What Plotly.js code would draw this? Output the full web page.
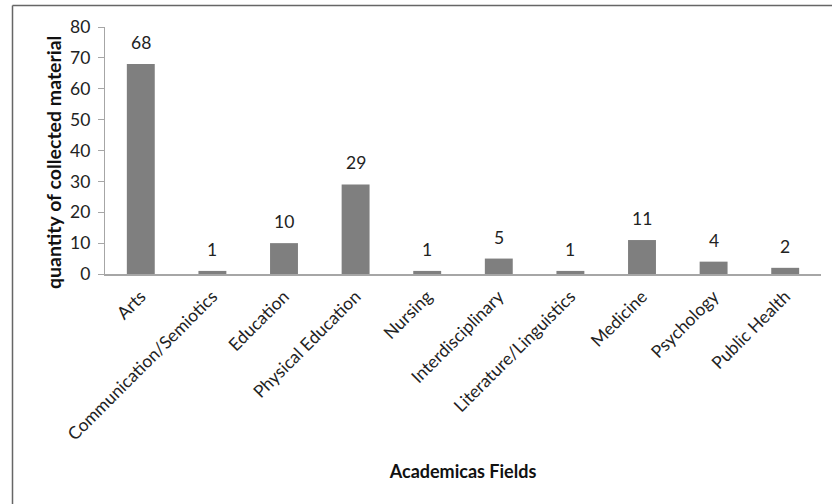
<!DOCTYPE html>
<html>
<head>
<meta charset="utf-8">
<script src="https://cdn.plot.ly/plotly-3.0.1.min.js"></script>
<style>
html,body{margin:0;padding:0;background:#fff;}
#chart{width:832px;height:504px;}
</style>
</head>
<body>
<div id="chart"></div>
<script>
const categories = ["Arts","Communication/Semiotics","Education","Physical Education","Nursing","Interdisciplinary","Literature/Linguistics","Medicine","Psychology","Public Health"];
const values = [68, 1, 10, 29, 1, 5, 1, 11, 4, 2];
const yTicks = [0, 10, 20, 30, 40, 50, 60, 70, 80];

const W = 832, H = 504;
const mL = 105, mR = 11, mT = 27, mB = 230;
const pw = W - mL - mR, ph = H - mT - mB;
function px(x){ return (x - mL) / pw; }
function py(y){ return 1 - (y - mT) / ph; }

const font = "Lato, 'Open Sans', sans-serif";

const trace = {
  type: "bar",
  x: categories,
  y: values,
  marker: {color: "#7f7f7f"},
  width: 0.39,
  hoverinfo: "none"
};

const labelAnns = categories.map((c, i) => ({
  x: c, y: values[i], xref: "x", yref: "y",
  text: String(values[i]), showarrow: false,
  yanchor: "bottom", yshift: 9,
  font: {family: font, size: 17.5, color: "#222"}
}));

const layout = {
  width: W, height: H,
  margin: {l: mL, r: mR, t: mT, b: mB, pad: 0},
  paper_bgcolor: "#fff",
  plot_bgcolor: "#fff",
  showlegend: false,
  font: {family: font, color: "#222"},
  xaxis: {
    type: "category",
    tickangle: -45,
    tickfont: {family: font, size: 17.5, color: "#222"},
    ticklabelstandoff: 4,
    showline: true, linecolor: "#a6a6a6", linewidth: 1.5,
    ticks: "", showgrid: false, zeroline: false,
    title: {text: "Academicas Fields", font: {family: font, size: 18, color: "#111", weight: "bold"}, standoff: 22}
  },
  yaxis: {
    range: [0, 80],
    tickvals: yTicks,
    tickfont: {family: font, size: 17.5, color: "#222"},
    showline: true, linecolor: "#a6a6a6", linewidth: 1.2,
    ticks: "outside", ticklen: 6, tickcolor: "#a6a6a6",
    ticklabelstandoff: 4,
    showgrid: false, zeroline: false
  },
  annotations: labelAnns.concat([{
    xref: "paper", yref: "paper", x: px(53), y: py(163),
    text: "quantity of collected material", showarrow: false, textangle: -90,
    xanchor: "center", yanchor: "middle",
    font: {family: font, size: 19.5, color: "#111", weight: "bold"}
  }]),
  shapes: [
    {type: "line", xref: "paper", yref: "paper", x0: px(12.5), x1: px(832), y0: py(5.5), y1: py(5.5), line: {color: "#666", width: 1.5}},
    {type: "line", xref: "paper", yref: "paper", x0: px(12.5), x1: px(12.5), y0: py(5.5), y1: py(504), line: {color: "#666", width: 1.5}}
  ]
};

Plotly.newPlot("chart", [trace], layout, {displayModeBar: false, staticPlot: true});
</script>
</body>
</html>
